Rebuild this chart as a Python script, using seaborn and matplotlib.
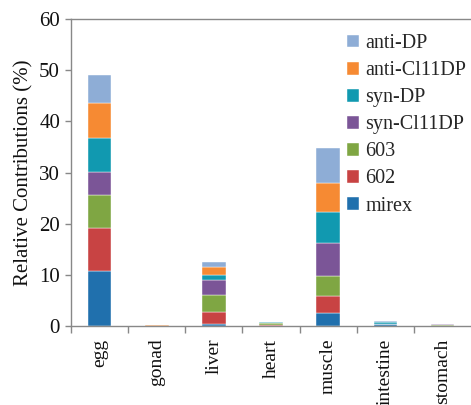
import numpy as np
import pandas as pd
import matplotlib
matplotlib.use('Agg')
import matplotlib.pyplot as plt
import seaborn as sns

organs = ['egg', 'gonad', 'liver', 'heart', 'muscle', 'intestine', 'stomach']

# relative contributions (%) per compound, bottom to top of each stack
mirex = [10.7, 0.02, 0.45, 0.10, 2.6, 0.30, 0.05]
c602 = [8.5, 0.01, 2.25, 0.15, 3.2, 0.05, 0.05]
c603 = [6.5, 0.02, 3.3, 0.30, 4.0, 0.05, 0.10]
syn_cl11dp = [4.4, 0.02, 3.0, 0.10, 6.4, 0.05, 0.10]
syn_dp = [6.7, 0.03, 1.0, 0.10, 6.0, 0.25, 0.05]
anti_cl11dp = [6.8, 0.02, 1.5, 0.05, 5.7, 0.05, 0.02]
anti_dp = [5.5, 0.12, 1.1, 0.05, 6.9, 0.20, 0.05]

series_names = ['mirex', '602', '603', 'syn-Cl11DP', 'syn-DP', 'anti-Cl11DP', 'anti-DP']
series_vals = [mirex, c602, c603, syn_cl11dp, syn_dp, anti_cl11dp, anti_dp]
colors = ['#2070ad', '#c84343', '#7fa643', '#7b5597', '#1199b0', '#f68a33', '#8eadd6']

sns.set_style('white')
plt.rcParams['font.family'] = ['Liberation Serif', 'DejaVu Serif']

fig = plt.figure(figsize=(4.71, 4.05), dpi=100)
ax = fig.add_axes([0.151, 0.195, 0.849, 0.758])

bottom = np.zeros(len(organs))
for name, vals, col in zip(series_names, series_vals, colors):
    df = pd.DataFrame({'organ': organs, 'value': vals})
    sns.barplot(data=df, x='organ', y='value', order=organs, color=col,
                saturation=1, width=0.41, bottom=bottom.copy(), label=name,
                edgecolor='white', linewidth=0.3, ax=ax)
    bottom += np.array(vals)

ax.set_xlim(-0.5, 6.5)
ax.set_ylim(0, 60)
ax.set_yticks(range(0, 61, 10))
ax.set_xlabel('')
ax.set_ylabel('Relative Contributions (%)', fontsize=15, color='#111111', labelpad=4)

for s in ['left', 'bottom', 'top']:
    ax.spines[s].set_color('#888888')
    ax.spines[s].set_linewidth(1.0)
ax.spines['right'].set_visible(False)

ax.set_xticks(np.arange(len(organs)))
ax.set_xticklabels(organs, rotation=90, fontsize=14, color='#111111')
ax.set_xticks(np.arange(-0.5, 6.5, 1.0), minor=True)
ax.tick_params(axis='x', which='major', length=0, pad=9)
ax.tick_params(axis='x', which='minor', length=5, width=1, color='#888888', direction='out', bottom=True)
ax.tick_params(axis='y', length=4, width=1, color='#888888', direction='out', left=True,
               labelsize=15, labelcolor='#111111', pad=4)

handles, labels = ax.get_legend_handles_labels()
ax.legend(handles[::-1], labels[::-1], loc='upper right', bbox_to_anchor=(1.018, 0.99),
          frameon=False, fontsize=14.5, handlelength=0.6, handleheight=0.6,
          handletextpad=0.3, labelspacing=0.4, borderaxespad=0.2)

fig.savefig('out.png', dpi=100)
plt.close(fig)
